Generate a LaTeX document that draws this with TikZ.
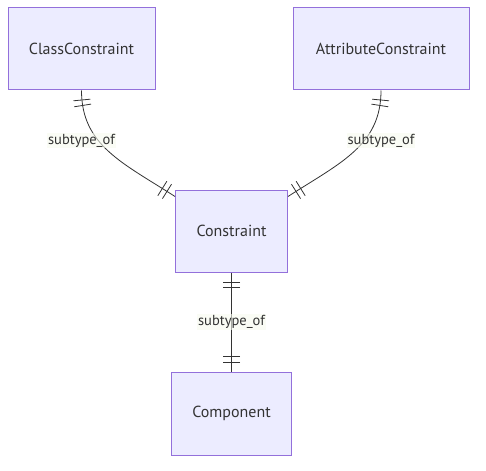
\documentclass[tikz,border=0pt]{standalone}
\usepackage{fontspec}
\setmainfont{PT Sans}
\usetikzlibrary{decorations.markings}
\definecolor{boxfill}{HTML}{ECECFF}
\definecolor{boxline}{HTML}{9370DB}
\definecolor{edgecol}{HTML}{333333}
\definecolor{lblbg}{HTML}{F6FAEE}
\tikzset{
  x=1pt, y=-1pt,
  entity/.style={draw=boxline, fill=boxfill, line width=1pt, inner sep=0pt,
    text=edgecol, font=\fontsize{16}{18}\selectfont},
  rel/.style={draw=edgecol, line width=0.8pt,
    postaction={decorate},
    decoration={markings,
      mark=at position 9.5pt with {\draw[edgecol, line width=0.8pt] (0,-8.5) -- (0,8.5);},
      mark=at position 15pt with {\draw[edgecol, line width=0.8pt] (0,-8.5) -- (0,8.5);},
      mark=at position -9.5pt with {\draw[edgecol, line width=0.8pt] (0,-8.5) -- (0,8.5);},
      mark=at position -15pt with {\draw[edgecol, line width=0.8pt] (0,-8.5) -- (0,8.5);}}},
  lbl/.style={fill=lblbg, fill opacity=0.6, text opacity=1, text=edgecol,
    inner sep=1pt, font=\fontsize{14.5}{16}\selectfont}
}
\begin{document}
\begin{tikzpicture}
\useasboundingbox (0,0) rectangle (486,470);
\node[entity, minimum width=147, minimum height=82] (cc) at (81.5,49) {ClassConstraint};
\node[entity, minimum width=176, minimum height=82] (ac) at (381,49) {AttributeConstraint};
\node[entity, minimum width=112, minimum height=82] (c) at (231.5,231) {Constraint};
\node[entity, minimum width=120, minimum height=83] (comp) at (231.5,413.5) {Component};
\coordinate (cl) at ([yshift=-7pt]c.north west);
\coordinate (cr) at ([yshift=-7pt]c.north east);
\draw[rel] (cc.south) .. controls ([yshift=-55pt]cc.south) and (123,163) .. (cl);
\draw[rel] (ac.south) .. controls ([yshift=-55pt]ac.south) and (340,163) .. (cr);
\draw[rel] (c.south) -- (comp.north);
\node[lbl] (l1) at (81.5,140.5) {subtype\_of};
\node[lbl] (l2) at (381,140.5) {subtype\_of};
\node[lbl] (l3) at (231.5,322) {subtype\_of};
\end{tikzpicture}
\end{document}
